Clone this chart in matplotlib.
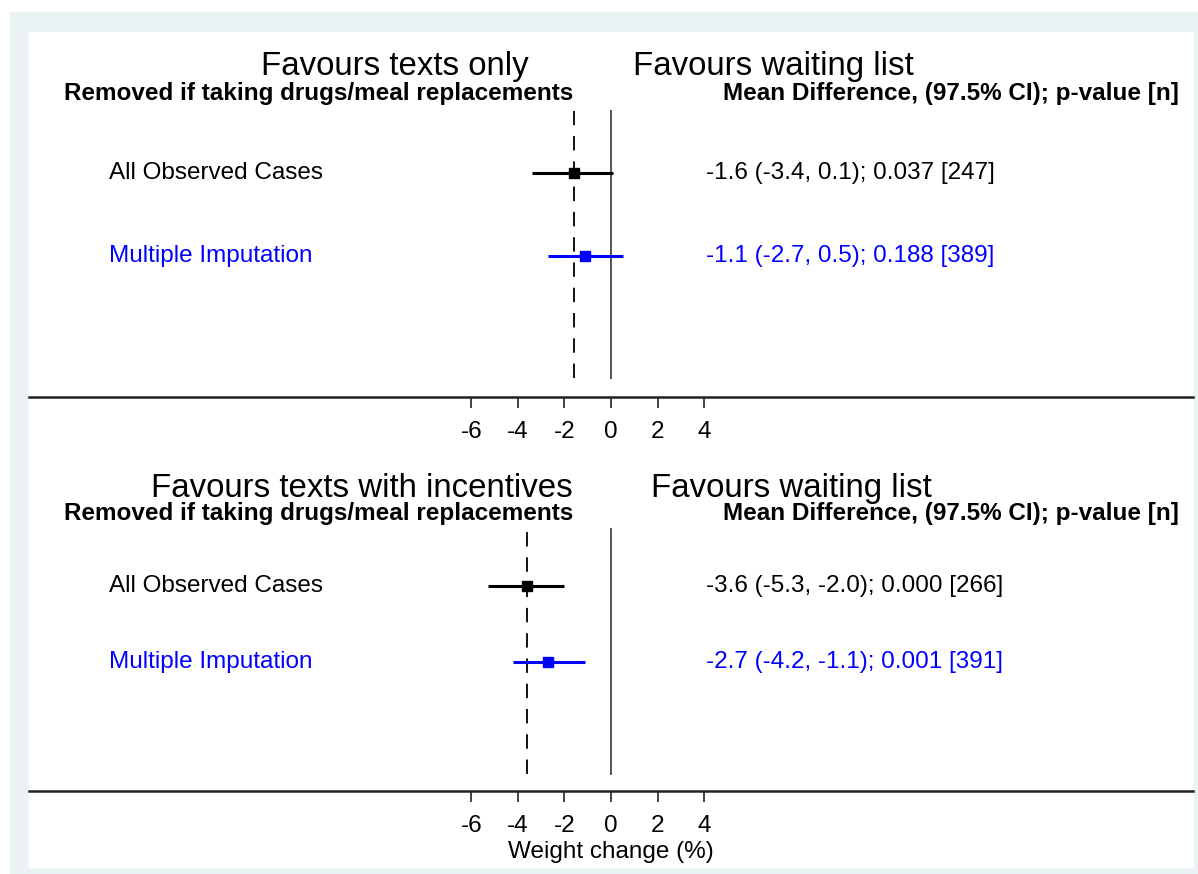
import numpy as np
import matplotlib
matplotlib.use('Agg')
import matplotlib.pyplot as plt
from matplotlib.patches import Rectangle

plt.rcParams['font.family'] = ['Liberation Sans', 'DejaVu Sans']

# data
row_labels = ['All Observed Cases', 'Multiple Imputation']
row_colors = ['black', '#0000ff']
left_titles = ['Favours texts only', 'Favours texts with incentives']
right_title = 'Favours waiting list'
sub_left = 'Removed if taking drugs/meal replacements'
sub_right = 'Mean Difference, (97.5% CI); p-value [n]'
est = [[-1.6, -1.1], [-3.6, -2.7]]
lo = [[-3.4, -2.7], [-5.3, -4.2]]
hi = [[0.1, 0.5], [-2.0, -1.1]]
pvals = [['0.037', '0.188'], ['0.000', '0.001']]
ns = [[247, 389], [266, 391]]
xticks = [-6, -4, -2, 0, 2, 4]

W, H = 1198, 874
fig = plt.figure(figsize=(W / 100, H / 100), dpi=100)

# stata style frame
fig.add_artist(Rectangle((10 / W, 0), (W - 10) / W, (H - 12) / H,
                         transform=fig.transFigure, color='#eaf2f3', zorder=0))
fig.add_artist(Rectangle((29 / W, 7 / H), 1164 / W, (867 - 32) / H,
                         transform=fig.transFigure, color='white', zorder=0))

# axes boxes in pixels: (top, bottom)
boxes = [(32, 397), (457, 791)]
ypos = [2.7, 1.7]
left_title_x = [-9.3, -10.72]
right_title_x = [0.94, 1.71]

for i, (top, bot) in enumerate(boxes):
    ax = fig.add_axes([29 / W, (H - bot) / H, 1164 / W, (bot - top) / H])
    ax.set_facecolor('none')
    ax.set_xlim(-25, 25)
    ax.set_ylim(0, 4.4)
    for s in ['top', 'right', 'left']:
        ax.spines[s].set_visible(False)
    ax.spines['bottom'].set_linewidth(1.8)
    ax.spines['bottom'].set_color('#222222')
    ax.set_yticks([])
    ax.set_xticks(xticks)
    ax.set_xticklabels([str(t) for t in xticks])
    ax.tick_params(axis='x', length=8, width=1.2, pad=9, labelsize=17.5,
                   color='#222222')

    ax.plot([0, 0], [0.23, 3.45], color='#555555', lw=1.4)
    ax.plot([est[i][0], est[i][0]], [0.23, 3.45], color='black', lw=1.3,
            linestyle=(0, (8, 6)))

    for j in range(2):
        c = row_colors[j]
        ax.plot([lo[i][j], hi[i][j]], [ypos[j], ypos[j]], color=c, lw=2.2,
                solid_capstyle='butt')
        ax.plot(est[i][j], ypos[j], marker='s', color=c, markersize=7.2,
                linestyle='none')
        ax.text(-21.56, ypos[j], row_labels[j], color=c, fontsize=17.5,
                ha='left', va='center')
        txt = f'{est[i][j]:.1f} ({lo[i][j]:.1f}, {hi[i][j]:.1f}); {pvals[i][j]} [{ns[i][j]}]'
        ax.text(4.1, ypos[j], txt, color=c, fontsize=17.5, ha='left', va='center')

    ax.text(left_title_x[i], 3.98, left_titles[i], fontsize=23.8, ha='center', va='center')
    ax.text(right_title_x[i], 3.98, right_title, fontsize=23.8, ha='left', va='center')
    ax.text(-23.5, 3.66, sub_left, fontsize=17.5, fontweight='bold', ha='left', va='center')
    ax.text(24.4, 3.66, sub_right, fontsize=17.5, fontweight='bold', ha='right', va='center')

    if i == 1:
        ax.set_xlabel('Weight change (%)', fontsize=17.5, labelpad=3)

fig.savefig('out.png', dpi=100)
